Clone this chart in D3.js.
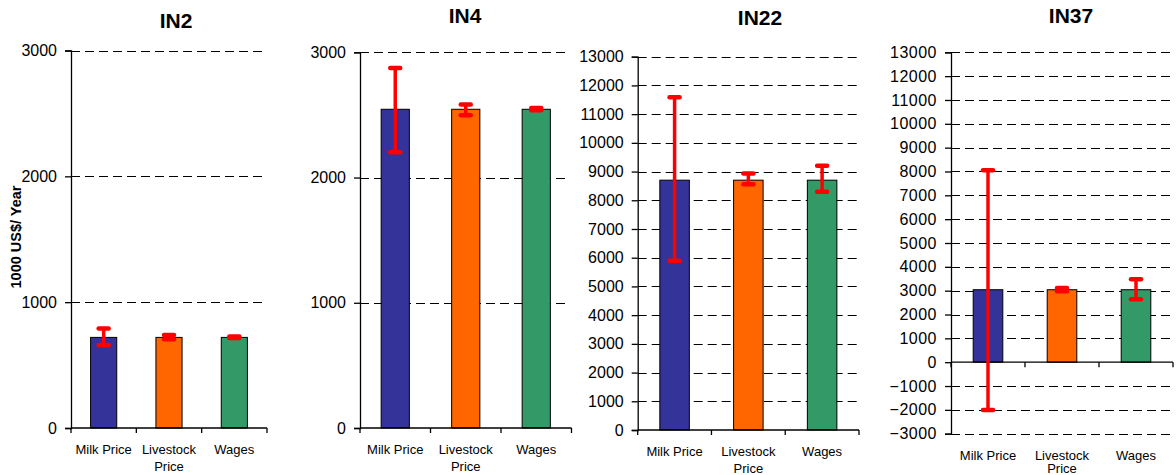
<!DOCTYPE html>
<html><head><meta charset="utf-8">
<script src="https://cdn.jsdelivr.net/npm/d3@7/dist/d3.min.js"></script>
<style>body{margin:0;background:#fff}svg{display:block;font-family:Arial,"Liberation Sans",sans-serif}</style>
</head><body>
<svg id="c" width="1176" height="475"></svg>
<script>
// ---- data ----
const categories = ["Milk Price", "Livestock Price", "Wages"];
const panelNames = ["IN2", "IN4", "IN22", "IN37"];
const barValues = [
  [720, 720, 720],
  [2545, 2545, 2545],
  [8700, 8700, 8700],
  [3040, 3040, 3040]
];
const errHigh = [
  [790, 740, 727],
  [2875, 2583, 2555],
  [11590, 8930, 9200],
  [8050, 3110, 3480]
];
const errLow = [
  [660, 705, 715],
  [2202, 2497, 2538],
  [5890, 8560, 8300],
  [-2010, 2980, 2645]
];
const yDomains = [[0, 3000], [0, 3000], [0, 13000], [-3000, 13000]];
const yTicks = [
  [0, 1000, 2000, 3000],
  [0, 1000, 2000, 3000],
  d3.range(0, 13001, 1000),
  d3.range(-3000, 13001, 1000)
];
const yAxisTitle = "1000 US$/ Year";
const colors = ["#333399", "#FF6600", "#339966"];

// ---- layout ----
const layout = [
  {x0: 71, x1: 267, yTop: 50.5, yBot: 428, titleX: 176, titleY: 27.5, ls: 0, lineGap: 17},
  {x0: 360, x1: 571.5, yTop: 52.3, yBot: 428, titleX: 465, titleY: 22.5, ls: 0, lineGap: 17},
  {x0: 637.7, x1: 859, yTop: 56.7, yBot: 430, titleX: 760, titleY: 24.5, ls: 0, lineGap: 17},
  {x0: 951, x1: 1173, yTop: 52.3, yBot: 433.7, titleX: 1071, titleY: 22.5, ls: 0.5, lineGap: 13.5}
];

const svg = d3.select("#c");

panelNames.forEach((name, i) => {
  const L = layout[i];
  const g = svg.append("g");
  const y = d3.scaleLinear().domain(yDomains[i]).range([L.yBot, L.yTop]);
  const x = d3.scaleBand().domain(categories).range([L.x0, L.x1]).paddingInner(0.6).paddingOuter(0.3);

  // gridlines (dashed), all ticks except zero
  g.append("g").selectAll("line").data(yTicks[i].filter(t => t !== 0))
    .join("line")
    .attr("x1", L.x0).attr("x2", L.x1 - 2)
    .attr("y1", d => Math.round(y(d)) + 0.5).attr("y2", d => Math.round(y(d)) + 0.5)
    .attr("stroke", "#000").attr("stroke-width", 1).attr("stroke-dasharray", "9,5");

  // bars
  g.append("g").selectAll("rect").data(categories).join("rect")
    .attr("x", d => x(d))
    .attr("width", x.bandwidth())
    .attr("y", (d, j) => y(Math.max(0, barValues[i][j])))
    .attr("height", (d, j) => Math.abs(y(barValues[i][j]) - y(0)))
    .attr("fill", (d, j) => colors[j])
    .attr("stroke", "#000").attr("stroke-width", 1);

  // y axis
  const ya = g.append("g").attr("transform", `translate(${L.x0},0)`)
    .call(d3.axisLeft(y).tickValues(yTicks[i]).tickSize(6).tickPadding(8).tickFormat(d3.format("d")));
  ya.attr("font-family", null).attr("font-size", null);
  ya.select(".domain").attr("stroke", "#000").attr("stroke-width", 1.3);
  ya.selectAll(".tick line").attr("stroke", "#000").attr("stroke-width", 1.3);
  ya.selectAll("text").attr("font-size", 16).attr("fill", "#000").attr("letter-spacing", L.ls);

  // x axis at zero
  const y0 = y(0);
  const xa = g.append("g");
  xa.append("line").attr("x1", L.x0).attr("x2", L.x1).attr("y1", y0).attr("y2", y0)
    .attr("stroke", "#000").attr("stroke-width", 1.3);
  const tickXs = d3.range(categories.length + 1).map(k => L.x0 + k * (L.x1 - L.x0) / categories.length);
  xa.selectAll("line.t").data(tickXs).join("line").attr("class", "t")
    .attr("x1", d => d).attr("x2", d => d).attr("y1", y0).attr("y2", y0 + 5)
    .attr("stroke", "#000").attr("stroke-width", 1.3);

  // category labels
  const labY = L.yBot + 26;
  categories.forEach((c, j) => {
    const cx = x(c) + x.bandwidth() / 2;
    const t = g.append("text").attr("x", cx).attr("y", labY).attr("text-anchor", "middle")
      .attr("font-size", 13).attr("fill", "#000");
    const words = c === "Livestock Price" ? ["Livestock", "Price"] : [c];
    words.forEach((w, k) => t.append("tspan").attr("x", cx).attr("dy", k === 0 ? 0 : L.lineGap).text(w));
  });

  // error bars
  const eb = g.append("g").attr("stroke", "#FF0000").attr("stroke-linecap", "round");
  categories.forEach((c, j) => {
    const cx = x(c) + x.bandwidth() / 2;
    const yh = y(errHigh[i][j]), yl = y(errLow[i][j]);
    eb.append("line").attr("x1", cx).attr("x2", cx).attr("y1", yh).attr("y2", yl).attr("stroke-width", 3.5);
    [yh, yl].forEach(yy => eb.append("line").attr("x1", cx - 5).attr("x2", cx + 5)
      .attr("y1", yy).attr("y2", yy).attr("stroke-width", 4.5));
  });

  // title
  g.append("text").attr("x", L.titleX).attr("y", L.titleY).attr("text-anchor", "middle")
    .attr("font-size", 21).attr("font-weight", "bold").text(name);
});

// y-axis title
svg.append("text").attr("transform", "translate(21,237) rotate(-90)")
  .attr("text-anchor", "middle").attr("font-size", 14.5).attr("font-weight", "bold").text(yAxisTitle);
</script>
</body></html>
